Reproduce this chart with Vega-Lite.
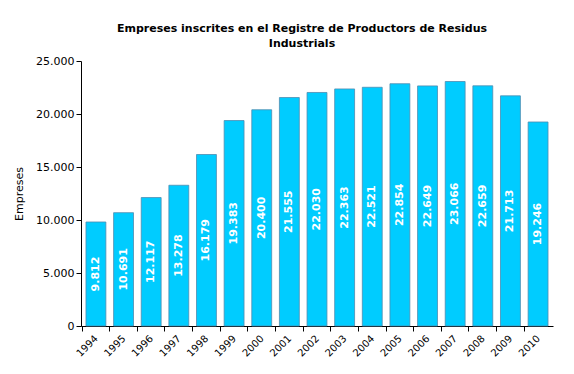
{
  "$schema": "https://vega.github.io/schema/vega-lite/v6.json",
  "autosize": {"type": "none"},
  "padding": {"left": 81, "top": 61, "right": 21, "bottom": 48},
  "width": 472,
  "height": 265,
  "background": "white",
  "title": {
    "text": ["Empreses inscrites en el Registre de Productors de Residus", "Industrials"],
    "font": "DejaVu Sans",
    "fontSize": 11,
    "fontWeight": "bold",
    "color": "#000000",
    "anchor": "middle",
    "dx": -15,
    "offset": 6,
    "lineHeight": 15
  },
  "data": {
    "values": [
      {"any": "1994", "empreses": 9812},
      {"any": "1995", "empreses": 10691},
      {"any": "1996", "empreses": 12117},
      {"any": "1997", "empreses": 13278},
      {"any": "1998", "empreses": 16179},
      {"any": "1999", "empreses": 19383},
      {"any": "2000", "empreses": 20400},
      {"any": "2001", "empreses": 21555},
      {"any": "2002", "empreses": 22030},
      {"any": "2003", "empreses": 22363},
      {"any": "2004", "empreses": 22521},
      {"any": "2005", "empreses": 22854},
      {"any": "2006", "empreses": 22649},
      {"any": "2007", "empreses": 23066},
      {"any": "2008", "empreses": 22659},
      {"any": "2009", "empreses": 21713},
      {"any": "2010", "empreses": 19246}
    ]
  },
  "encoding": {
    "x": {
      "field": "any",
      "type": "ordinal",
      "scale": {"paddingInner": 0.28, "paddingOuter": 0.18},
      "axis": {
        "title": null,
        "labelAngle": -45,
        "labelAlign": "right",
        "labelBaseline": "top",
        "bandPosition": -0.195,
        "labelOffset": -3,
        "labelFont": "DejaVu Sans",
        "labelFontSize": 10,
        "labelColor": "#000000",
        "domainColor": "#000000",
        "tickColor": "#000000",
        "tickSize": 5,
        "labelPadding": 2
      }
    }
  },
  "layer": [
    {
      "mark": {"type": "bar", "color": "#00CCFF", "stroke": "#4f8cb0", "strokeWidth": 1, "strokeOpacity": 0.8},
      "encoding": {
        "y": {
          "field": "empreses",
          "type": "quantitative",
          "scale": {"domain": [0, 25000]},
          "axis": {
            "title": "Empreses",
            "titleFont": "DejaVu Sans",
            "titleFontSize": 11,
            "titleFontWeight": "normal",
            "titleColor": "#000000",
            "titleX": -57,
            "values": [0, 5000, 10000, 15000, 20000, 25000],
            "labelExpr": "replace(format(datum.value, ','), ',', '.')",
            "labelFont": "DejaVu Sans",
            "labelFontSize": 11,
            "labelColor": "#000000",
            "domainColor": "#000000",
            "tickColor": "#000000",
            "tickSize": 5,
            "grid": false
          }
        }
      }
    },
    {
      "mark": {"type": "text", "angle": 270, "align": "center", "baseline": "middle", "font": "DejaVu Sans", "fontSize": 11, "fontWeight": "bold", "color": "#FFFFFF"},
      "encoding": {
        "y": {
          "field": "empreses",
          "type": "quantitative",
          "scale": {"domain": [0, 50000]},
          "axis": null
        },
        "text": {"field": "empreses", "type": "quantitative", "format": ",", "formatType": "number"}
      }
    }
  ],
  "resolve": {"scale": {"y": "independent"}},
  "config": {
    "view": {"stroke": null},
    "locale": {"number": {"decimal": ",", "thousands": ".", "grouping": [3], "currency": ["", " €"]}}
  }
}
